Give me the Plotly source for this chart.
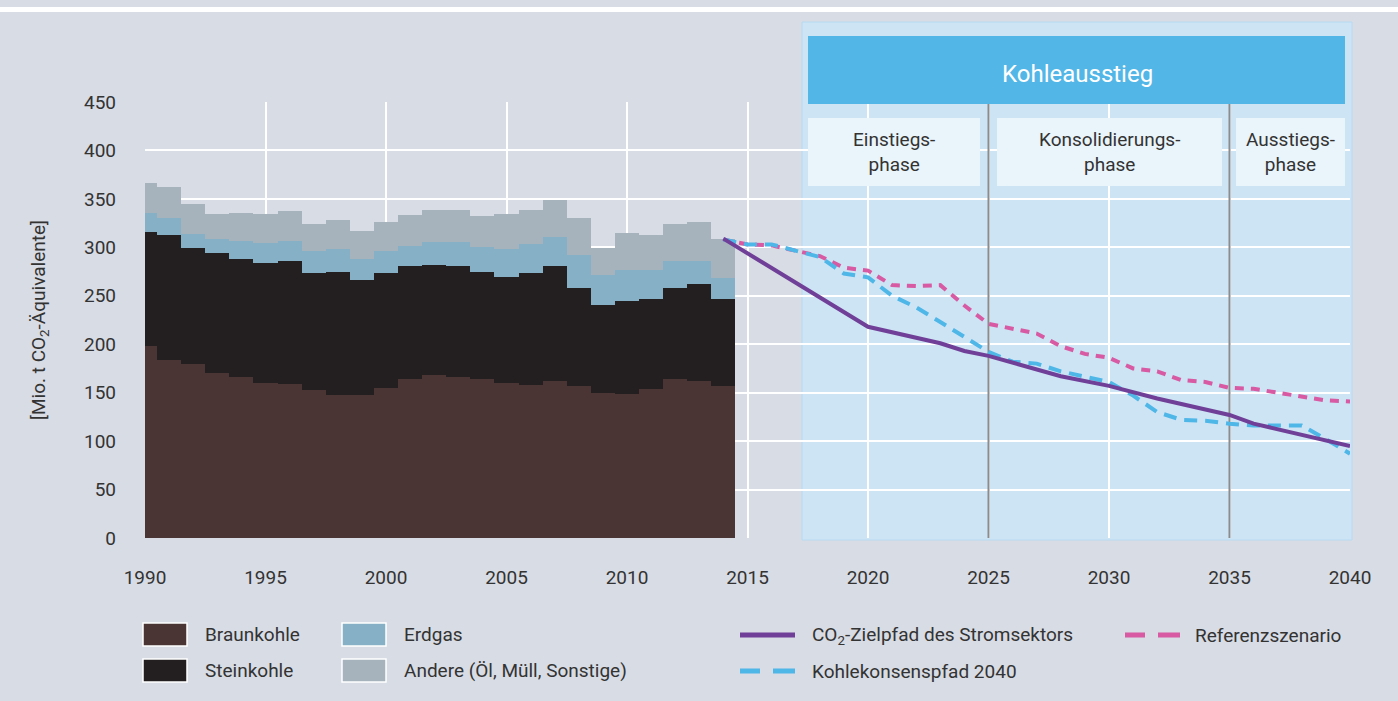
import plotly.graph_objects as go

# ---------------- data ----------------
years = list(range(1990, 2015))
braunkohle = [198, 184, 180, 170, 166, 160, 159, 153, 148, 148, 155, 164, 168, 166, 164, 160, 158, 162, 157, 150, 149, 154, 164, 162, 157]
steinkohle = [118, 129, 119, 124, 122, 124, 127, 120, 127, 118, 118, 117, 114, 115, 111, 109, 115, 119, 101, 91, 96, 93, 94, 100, 90]
erdgas = [19, 17, 15, 15, 19, 20, 21, 23, 23, 22, 23, 20, 23, 24, 25, 29, 30, 30, 34, 30, 32, 30, 28, 24, 21]
andere = [31, 32, 31, 25, 28, 30, 30, 28, 30, 29, 30, 32, 34, 34, 32, 36, 36, 38, 38, 28, 38, 36, 38, 40, 41]

ziel_years = [2014, 2020, 2023, 2024, 2025, 2028, 2030, 2032, 2035, 2036, 2040]
ziel = [309, 218, 201, 193, 188, 167, 157, 144, 127, 118, 95]

scen_years = list(range(2014, 2041))
kohlekonsens = [308, 303, 303, 297, 290, 273, 269, 250, 238, 223, 207, 192, 182, 180, 172, 166, 161, 147, 130, 122, 121, 118, 116, 116, 116, 102, 87]
referenz = [308, 303, 302, 297, 291, 279, 276, 261, 260, 261, 240, 221, 216, 211, 198, 190, 186, 175, 172, 163, 161, 155, 154, 150, 146, 142, 141]

phase_bounds = [2025, 2035]
phase_top = 448

x_ticks = list(range(1990, 2041, 5))
y_ticks = list(range(0, 451, 50))

# ---------------- style ----------------
FONT = "Roboto"
BG = "#d8dce4"
TXT = "#333333"
C_BRAUN = "#4b3434"
C_STEIN = "#231f20"
C_ERDGAS = "#86b0c5"
C_ANDERE = "#a6b3bc"
C_ZIEL = "#703f97"
C_REF = "#d75aa3"
C_KON = "#4fb6e8"
C_SHADE = "#cde4f5"
C_HEAD = "#52b6e7"
C_PHASE = "#eaf4fb"

W_FIG, H_FIG = 1398, 701
L, R_PX, T, B = 145, 1350, 102, 538
PW, PH = R_PX - L, B - T


def xp(px):
    return (px - L) / PW


def yp(py):
    return (B - py) / PH


fig = go.Figure()

for name, vals, col in [("Braunkohle", braunkohle, C_BRAUN),
                        ("Steinkohle", steinkohle, C_STEIN),
                        ("Erdgas", erdgas, C_ERDGAS),
                        ("Andere (Öl, Müll, Sonstige)", andere, C_ANDERE)]:
    fig.add_trace(go.Bar(x=years, y=vals, name=name, width=1.0,
                         marker=dict(color=col, line=dict(width=0)),
                         showlegend=False))

# phase boundary lines
px_, py_ = [], []
for b in phase_bounds:
    px_ += [b, b, None]
    py_ += [0, phase_top, None]
fig.add_trace(go.Scatter(x=px_, y=py_, mode="lines", line=dict(color="#8a8c8f", width=2),
                         showlegend=False, cliponaxis=False, hoverinfo="skip"))

fig.add_trace(go.Scatter(x=scen_years, y=referenz, mode="lines", name="Referenzszenario",
                         line=dict(color=C_REF, width=4, dash="9px,7px"), showlegend=False))
fig.add_trace(go.Scatter(x=scen_years, y=kohlekonsens, mode="lines", name="Kohlekonsenspfad 2040",
                         line=dict(color=C_KON, width=4, dash="13px,8px"), showlegend=False))
fig.add_trace(go.Scatter(x=ziel_years, y=ziel, mode="lines", name="CO₂-Zielpfad des Stromsektors",
                         line=dict(color=C_ZIEL, width=4), showlegend=False))

shapes = []
annotations = []


def note(px, py, text, size, color=TXT, xanchor="center"):
    annotations.append(dict(xref="paper", yref="paper", x=xp(px), y=yp(py), text=text,
                            xanchor=xanchor, yanchor="middle", showarrow=False,
                            font=dict(family=FONT, size=size, color=color)))


# top white strip
shapes.append(dict(type="rect", xref="paper", yref="paper", x0=xp(0), x1=xp(W_FIG),
                   y0=yp(12), y1=yp(7), fillcolor="white", line=dict(width=0), layer="below"))
# shaded future region
shapes.append(dict(type="rect", xref="paper", yref="paper", x0=xp(802), x1=xp(1352),
                   y0=yp(540), y1=yp(22), fillcolor=C_SHADE,
                   line=dict(color="#b6daf2", width=1), layer="below"))
# header
shapes.append(dict(type="rect", xref="paper", yref="paper", x0=xp(808), x1=xp(1345),
                   y0=yp(104), y1=yp(36), fillcolor=C_HEAD, line=dict(width=0), layer="above"))
note(1077, 74, "Kohleausstieg", 24, "white")
# phase boxes
for x0, x1, label in [(808, 980, "Einstiegs-<br>phase"),
                      (997, 1222, "Konsolidierungs-<br>phase"),
                      (1236, 1345, "Ausstiegs-<br>phase")]:
    shapes.append(dict(type="rect", xref="paper", yref="paper", x0=xp(x0), x1=xp(x1),
                       y0=yp(186), y1=yp(118), fillcolor=C_PHASE, line=dict(width=0), layer="above"))
    note((x0 + x1) / 2, 152, label, 19)

# custom legend: swatches
for (x0, y0, label, col) in [(143, 623, "Braunkohle", C_BRAUN),
                             (143, 659, "Steinkohle", C_STEIN),
                             (342, 623, "Erdgas", C_ERDGAS),
                             (342, 659, "Andere (Öl, Müll, Sonstige)", C_ANDERE)]:
    shapes.append(dict(type="rect", xref="paper", yref="paper", x0=xp(x0), x1=xp(x0 + 44),
                       y0=yp(y0 + 23), y1=yp(y0), fillcolor=col, line=dict(color="white", width=1.5)))
    note(x0 + 60, y0 + 11.5, label, 19, xanchor="left")

# custom legend: lines
shapes.append(dict(type="line", xref="paper", yref="paper", x0=xp(740), x1=xp(795),
                   y0=yp(635), y1=yp(635), line=dict(color=C_ZIEL, width=5)))
note(810, 635, "CO<sub>2</sub>-Zielpfad des Stromsektors", 19, xanchor="left")
for (x0, y0, col) in [(740, 671, C_KON), (1125, 635, C_REF)]:
    for a, b in [(0, 20), (33, 55)]:
        shapes.append(dict(type="line", xref="paper", yref="paper", x0=xp(x0 + a), x1=xp(x0 + b),
                           y0=yp(y0), y1=yp(y0), line=dict(color=col, width=5)))
note(810, 671, "Kohlekonsenspfad 2040", 19, xanchor="left")
note(1193, 635, "Referenzszenario", 19, xanchor="left")

fig.update_layout(
    width=W_FIG, height=H_FIG,
    margin=dict(l=L, r=W_FIG - R_PX, t=T, b=H_FIG - B, pad=0),
    paper_bgcolor=BG, plot_bgcolor="rgba(0,0,0,0)",
    barmode="stack", bargap=0,
    showlegend=False,
    font=dict(family=FONT, size=19, color=TXT),
    shapes=shapes, annotations=annotations,
    xaxis=dict(range=[1990, 2040], tickvals=x_ticks, ticktext=[str(v) for v in x_ticks],
               showgrid=True, gridcolor="white", gridwidth=2, zeroline=False, showline=False,
               ticks="", ticklabelstandoff=26, tickfont=dict(family=FONT, size=19, color=TXT)),
    yaxis=dict(range=[0, 450], tickvals=y_ticks, showgrid=True, gridcolor="white", gridwidth=2,
               zeroline=False, showline=False, ticks="", ticklabelstandoff=28,
               tickfont=dict(family=FONT, size=19, color=TXT),
               title=dict(text="[Mio. t CO<sub>2</sub>-Äquivalente]", standoff=33,
                          font=dict(family=FONT, size=19, color=TXT))),
)

fig.write_html("out.html", config={"displayModeBar": False},
               post_script="document.body.style.margin='0';")
